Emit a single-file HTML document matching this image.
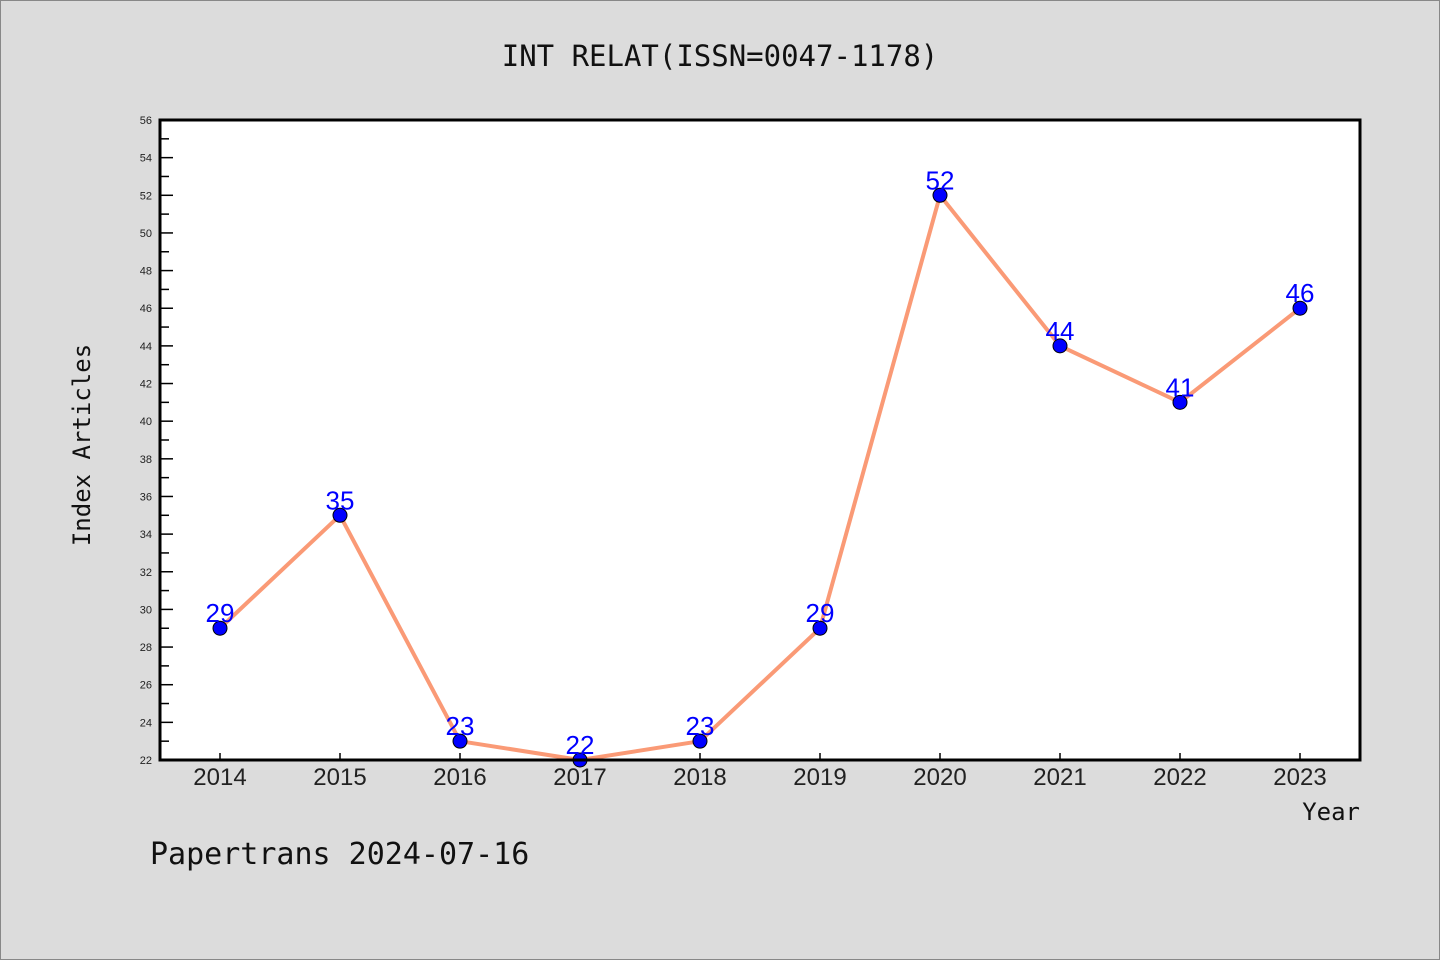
<!DOCTYPE html>
<html><head><meta charset="utf-8"><style>
body{margin:0;background:#dcdcdc;}
svg{display:block;font-family:"Liberation Sans","DejaVu Sans",sans-serif;}
</style></head><body>
<svg id="chart" width="1440" height="960" xmlns="http://www.w3.org/2000/svg">
<rect x="0.5" y="0.5" width="1439" height="959" fill="#dcdcdc" stroke="#888"/>
<text x="720" y="66" text-anchor="middle" font-family="DejaVu Sans Mono, Liberation Mono, monospace" font-size="29" fill="#111">INT RELAT(ISSN=0047-1178)</text>
<rect x="160" y="120" width="1200" height="640" fill="#fff"/>
<g id="yticks"></g>
<g id="xticks"></g>
<g id="series"></g>
<rect x="160" y="120" width="1200" height="640" fill="none" stroke="#000" stroke-width="3"/>
<text x="90" y="445" text-anchor="middle" transform="rotate(-90 90 445)" font-family="DejaVu Sans Mono, Liberation Mono, monospace" font-size="24" fill="#111">Index Articles</text>
<text x="1360" y="820" text-anchor="end" font-family="DejaVu Sans Mono, Liberation Mono, monospace" font-size="24" fill="#111">Year</text>
<text x="150" y="864" font-family="DejaVu Sans Mono, Liberation Mono, monospace" font-size="30" fill="#111">Papertrans 2024-07-16</text>
</svg>
<script>
const years = ["2014","2015","2016","2017","2018","2019","2020","2021","2022","2023"];
const values = [29,35,23,22,23,29,52,44,41,46];
const yTicks = [22,24,26,28,30,32,34,36,38,40,42,44,46,48,50,52,54,56];
const NS="http://www.w3.org/2000/svg";
const yMin=22,yMax=56,plotTop=120,plotBot=760,plotLeft=160;
function ys(v){return plotBot-(v-yMin)/(yMax-yMin)*(plotBot-plotTop);}
function xs(i){return 220+i*120;}
function mk(t,a,p){const e=document.createElementNS(NS,t);for(const k in a)e.setAttribute(k,a[k]);p.appendChild(e);return e;}
const yg=document.getElementById('yticks');
yTicks.forEach(v=>{
  const y=ys(v);
  const l=mk('line',{x1:plotLeft,x2:plotLeft+13,y1:y,y2:y,stroke:'#000','stroke-width':1.5},yg);
  
  
  const t=mk('text',{x:152,y:y+4,'text-anchor':'end','font-size':11,fill:'#222'},yg);
  
  
  t.textContent=v;
  if(v<yMax){const ym=ys(v+1);
    const m=mk('line',{x1:plotLeft,x2:plotLeft+9,y1:ym,y2:ym,stroke:'#000','stroke-width':1.5},yg);
    
    }
});
const xg=document.getElementById('xticks');
years.forEach((yr,i)=>{
  const x=xs(i);
  const l=mk('line',{x1:x,x2:x,y1:plotBot,y2:plotBot-7,stroke:'#000','stroke-width':1.5},xg);
  
  
  const t=mk('text',{x:x,y:785,'text-anchor':'middle','font-size':24,fill:'#222'},xg);
  
  
  t.textContent=yr;
});
const sg=document.getElementById('series');
const pl=mk('polyline',{points:values.map((v,i)=>xs(i)+','+ys(v)).join(' '),fill:'none',stroke:'#fa9a76','stroke-width':4,'stroke-linejoin':'round'},sg);


values.forEach((v,i)=>{
  const c=mk('circle',{cx:xs(i),cy:ys(v),r:7,fill:'#0000ff',stroke:'#000','stroke-width':1},sg);
  
  
  const t=mk('text',{x:xs(i),y:ys(v)-6,'text-anchor':'middle','font-size':26,fill:'#0000ff'},sg);
  
  
  t.textContent=v;
});
</script>
</body></html>
